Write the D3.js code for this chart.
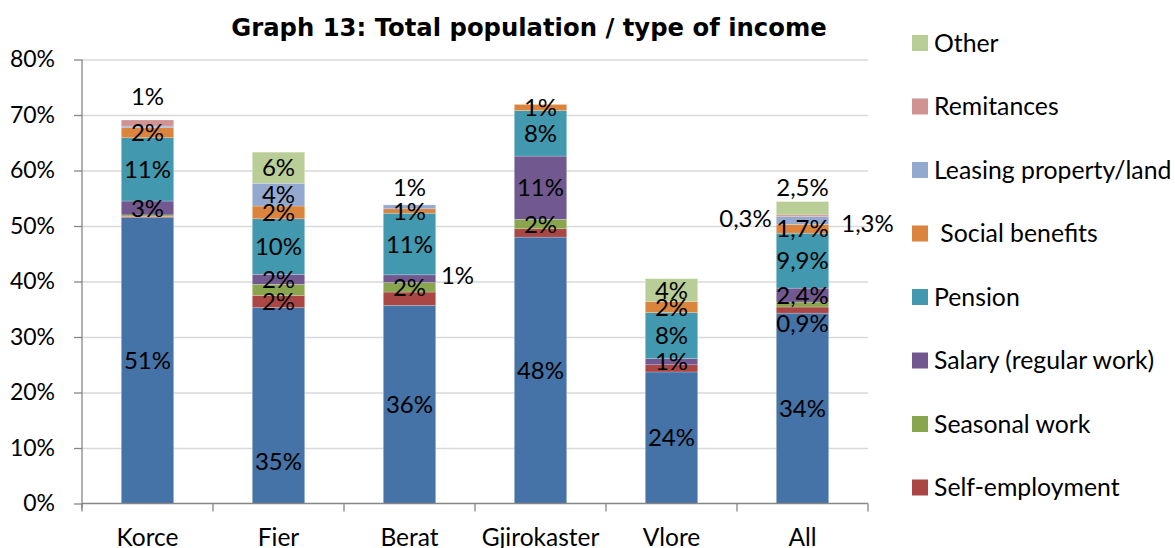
<!DOCTYPE html>
<html>
<head>
<meta charset="utf-8">
<script src="https://cdn.jsdelivr.net/npm/d3@7"></script>
<style>
  body { margin: 0; background: #fff; }
  svg text { font-family: Lato, 'Noto Sans', sans-serif; fill: #000; }
</style>
</head>
<body>
<svg id="chart" width="1175" height="548"></svg>
<script>
// categories on the x axis
const categories = ['Korce', 'Fier', 'Berat', 'Gjirokaster', 'Vlore', 'All']

// stacked series, bottom to top (the blue base has no legend entry)
const seriesNames = ['Agriculture', 'Self-employment', 'Seasonal work', 'Salary (regular work)', 'Pension', ' Social benefits', 'Leasing property/land', 'Remitances', 'Other']

// values in %, one per category
const agriculture = [51.5, 35.3, 35.7, 48.0, 23.7, 34.3]
const selfEmployment = [0.2, 2.2, 2.4, 1.5, 1.3, 1.1]
const seasonalWork = [0.3, 2.0, 1.7, 1.7, 0, 0.9]
const salary = [2.5, 1.8, 1.4, 11.4, 1.1, 2.5]
const pension = [11.4, 10.0, 11.1, 8.2, 8.3, 9.9]
const socialBenefits = [1.8, 2.3, 0.8, 1.1, 2.0, 1.6]
const leasing = [0.3, 4.1, 0.7, 0, 0, 1.4]
const remitances = [1.1, 0, 0, 0, 0, 0.3]
const other = [0, 5.6, 0, 0, 4.1, 2.4]
const seriesValues = [agriculture, selfEmployment, seasonalWork, salary, pension, socialBenefits, leasing, remitances, other]

// data labels as printed on the chart (null = no label)
const agricultureLabels = ['51%', '35%', '36%', '48%', '24%', '34%']
const selfEmploymentLabels = [null, '2%', null, null, null, '0,9%']
const seasonalWorkLabels = [null, null, '2%', '2%', null, null]
const salaryLabels = ['3%', '2%', '1%', '11%', '1%', '2,4%']
const pensionLabels = ['11%', '10%', '11%', '8%', '8%', '9,9%']
const socialBenefitsLabels = ['2%', '2%', '1%', '1%', '2%', '1,7%']
const leasingLabels = [null, '4%', '1%', null, null, '1,3%']
const remitancesLabels = ['1%', null, null, null, null, '0,3%']
const otherLabels = [null, '6%', null, null, '4%', '2,5%']
const seriesLabels = [agricultureLabels, selfEmploymentLabels, seasonalWorkLabels, salaryLabels, pensionLabels, socialBenefitsLabels, leasingLabels, remitancesLabels, otherLabels]

// y axis ticks
const yTicks = [0, 0.1, 0.2, 0.3, 0.4, 0.5, 0.6, 0.7, 0.8]

const colors = ['#4572A7', '#AA4643', '#89A54E', '#71588F', '#4198AF', '#DB843D', '#93A9CF', '#D19392', '#B9CD96']

// labels that Excel had moved off the segment centre (dx, dy in px)
const labelShift = {
  'Korce|Remitances': [0, -27],
  'Fier|Agriculture': [0, 56],
  'Berat|Salary (regular work)': [48, -3],
  'Berat|Leasing property/land': [0, -19],
  'All|Self-employment': [0, 13],
  'All|Remitances': [-57, 3],
  'All|Leasing property/land': [65, 3],
  'All|Other': [0, -21]
}

const plot = { left: 82, right: 868, top: 59.5, bottom: 503.5 }
const svg = d3.select('#chart')

const rows = categories.map((cat, i) => {
  const row = { Category: cat }
  seriesNames.forEach((name, s) => { row[name] = seriesValues[s][i] / 100 })
  return row
})
const stacked = d3.stack().keys(seriesNames)(rows)

const x = d3.scaleBand()
  .domain(categories)
  .range([plot.left, plot.right])
  .paddingInner(0.6)
  .paddingOuter(0.3)

const y = d3.scaleLinear()
  .domain([0, 0.8])
  .range([plot.bottom, plot.top])

/**
 * Draws the horizontal grid lines and the y axis.
 */
function drawYAxis () {
  svg.append('g')
    .attr('transform', 'translate(' + plot.left + ',0)')
    .call(d3.axisLeft(y).tickValues(yTicks.slice(1)).tickSize(-(plot.right - plot.left)).tickFormat(''))
    .call((g) => g.select('.domain').remove())
    .selectAll('line')
    .attr('stroke', '#D9D9D9')
    .attr('stroke-width', 1.6)

  const axis = svg.append('g')
    .attr('transform', 'translate(' + plot.left + ',0)')
    .call(d3.axisLeft(y).tickValues(yTicks).tickFormat(d3.format('.0%')).tickSize(8).tickSizeOuter(0).tickPadding(19))
  axis.select('.domain').attr('stroke', '#868686').attr('stroke-width', 1.3)
    .attr('d', 'M0,' + plot.top + 'V' + (plot.bottom + 5))
  axis.selectAll('line').attr('stroke', '#868686').attr('stroke-width', 1.3)
  axis.selectAll('text').style('font-size', '23px').style('font-family', 'Lato, sans-serif').attr('fill', '#000')
}

/**
 * Draws the x axis with ticks between the categories.
 */
function drawXAxis () {
  const g = svg.append('g')
  g.append('line')
    .attr('x1', plot.left)
    .attr('x2', plot.right)
    .attr('y1', plot.bottom)
    .attr('y2', plot.bottom)
    .attr('stroke', '#868686')
    .attr('stroke-width', 1.3)
  g.selectAll('.bound')
    .data(d3.range(categories.length + 1))
    .join('line')
    .attr('class', 'bound')
    .attr('x1', (i) => plot.left + i * x.step())
    .attr('x2', (i) => plot.left + i * x.step())
    .attr('y1', plot.bottom)
    .attr('y2', plot.bottom + 8)
    .attr('stroke', '#868686')
    .attr('stroke-width', 1.3)
  g.selectAll('.cat')
    .data(categories)
    .join('text')
    .attr('class', 'cat')
    .attr('x', (c) => x(c) + x.bandwidth() / 2)
    .attr('y', 546)
    .attr('text-anchor', 'middle')
    .style('font-size', '24.5px')
    .text((c) => c)
}

/**
 * Draws the stacked bars.
 */
function drawBars () {
  svg.append('g')
    .selectAll('g')
    .data(stacked)
    .join('g')
    .attr('fill', (d, i) => colors[i])
    .selectAll('rect')
    .data((d) => d)
    .join('rect')
    .attr('x', (d) => x(d.data.Category))
    .attr('y', (d) => y(d[1]))
    .attr('width', x.bandwidth())
    .attr('height', (d) => y(d[0]) - y(d[1]))
    .attr('stroke', 'rgba(255,255,255,0.35)')
    .attr('stroke-width', 0.6)
}

/**
 * Writes the value labels on the segments.
 */
function drawLabels () {
  const items = []
  stacked.forEach((layer, s) => {
    layer.forEach((d, i) => {
      const text = seriesLabels[s][i]
      if (!text) return
      const shift = labelShift[categories[i] + '|' + seriesNames[s]] || [0, 0]
      items.push({
        text,
        x: x(categories[i]) + x.bandwidth() / 2 + shift[0],
        y: (y(d[0]) + y(d[1])) / 2 + shift[1]
      })
    })
  })
  svg.append('g')
    .selectAll('text')
    .data(items)
    .join('text')
    .attr('x', (d) => d.x)
    .attr('y', (d) => d.y)
    .attr('dy', '0.36em')
    .attr('text-anchor', 'middle')
    .style('font-size', '24px')
    .text((d) => d.text)
}

/**
 * Draws the legend on the right, top series first.
 */
function drawLegend () {
  const entries = seriesNames.slice(1).map((name, i) => ({ name, color: colors[i + 1] })).reverse()
  const item = svg.append('g')
    .selectAll('g')
    .data(entries)
    .join('g')
    .attr('transform', (d, i) => 'translate(912,' + (43 + i * 63.5) + ')')
  item.append('rect')
    .attr('y', -8)
    .attr('width', 16)
    .attr('height', 16)
    .attr('fill', (d) => d.color)
  item.append('text')
    .attr('x', 22)
    .attr('dy', '0.36em')
    .style('font-size', '24.8px')
    .style('white-space', 'pre')
    .text((d) => d.name)
}

drawYAxis()
drawBars()
drawXAxis()
drawLabels()
drawLegend()

svg.append('text')
  .attr('x', 529)
  .attr('y', 27)
  .attr('dy', '0.36em')
  .attr('text-anchor', 'middle')
  .style('font-family', "'DejaVu Sans', sans-serif")
  .style('font-size', '24.3px')
  .style('font-weight', 'bold')
  .text('Graph 13: Total population / type of income')
</script>
</body>
</html>
